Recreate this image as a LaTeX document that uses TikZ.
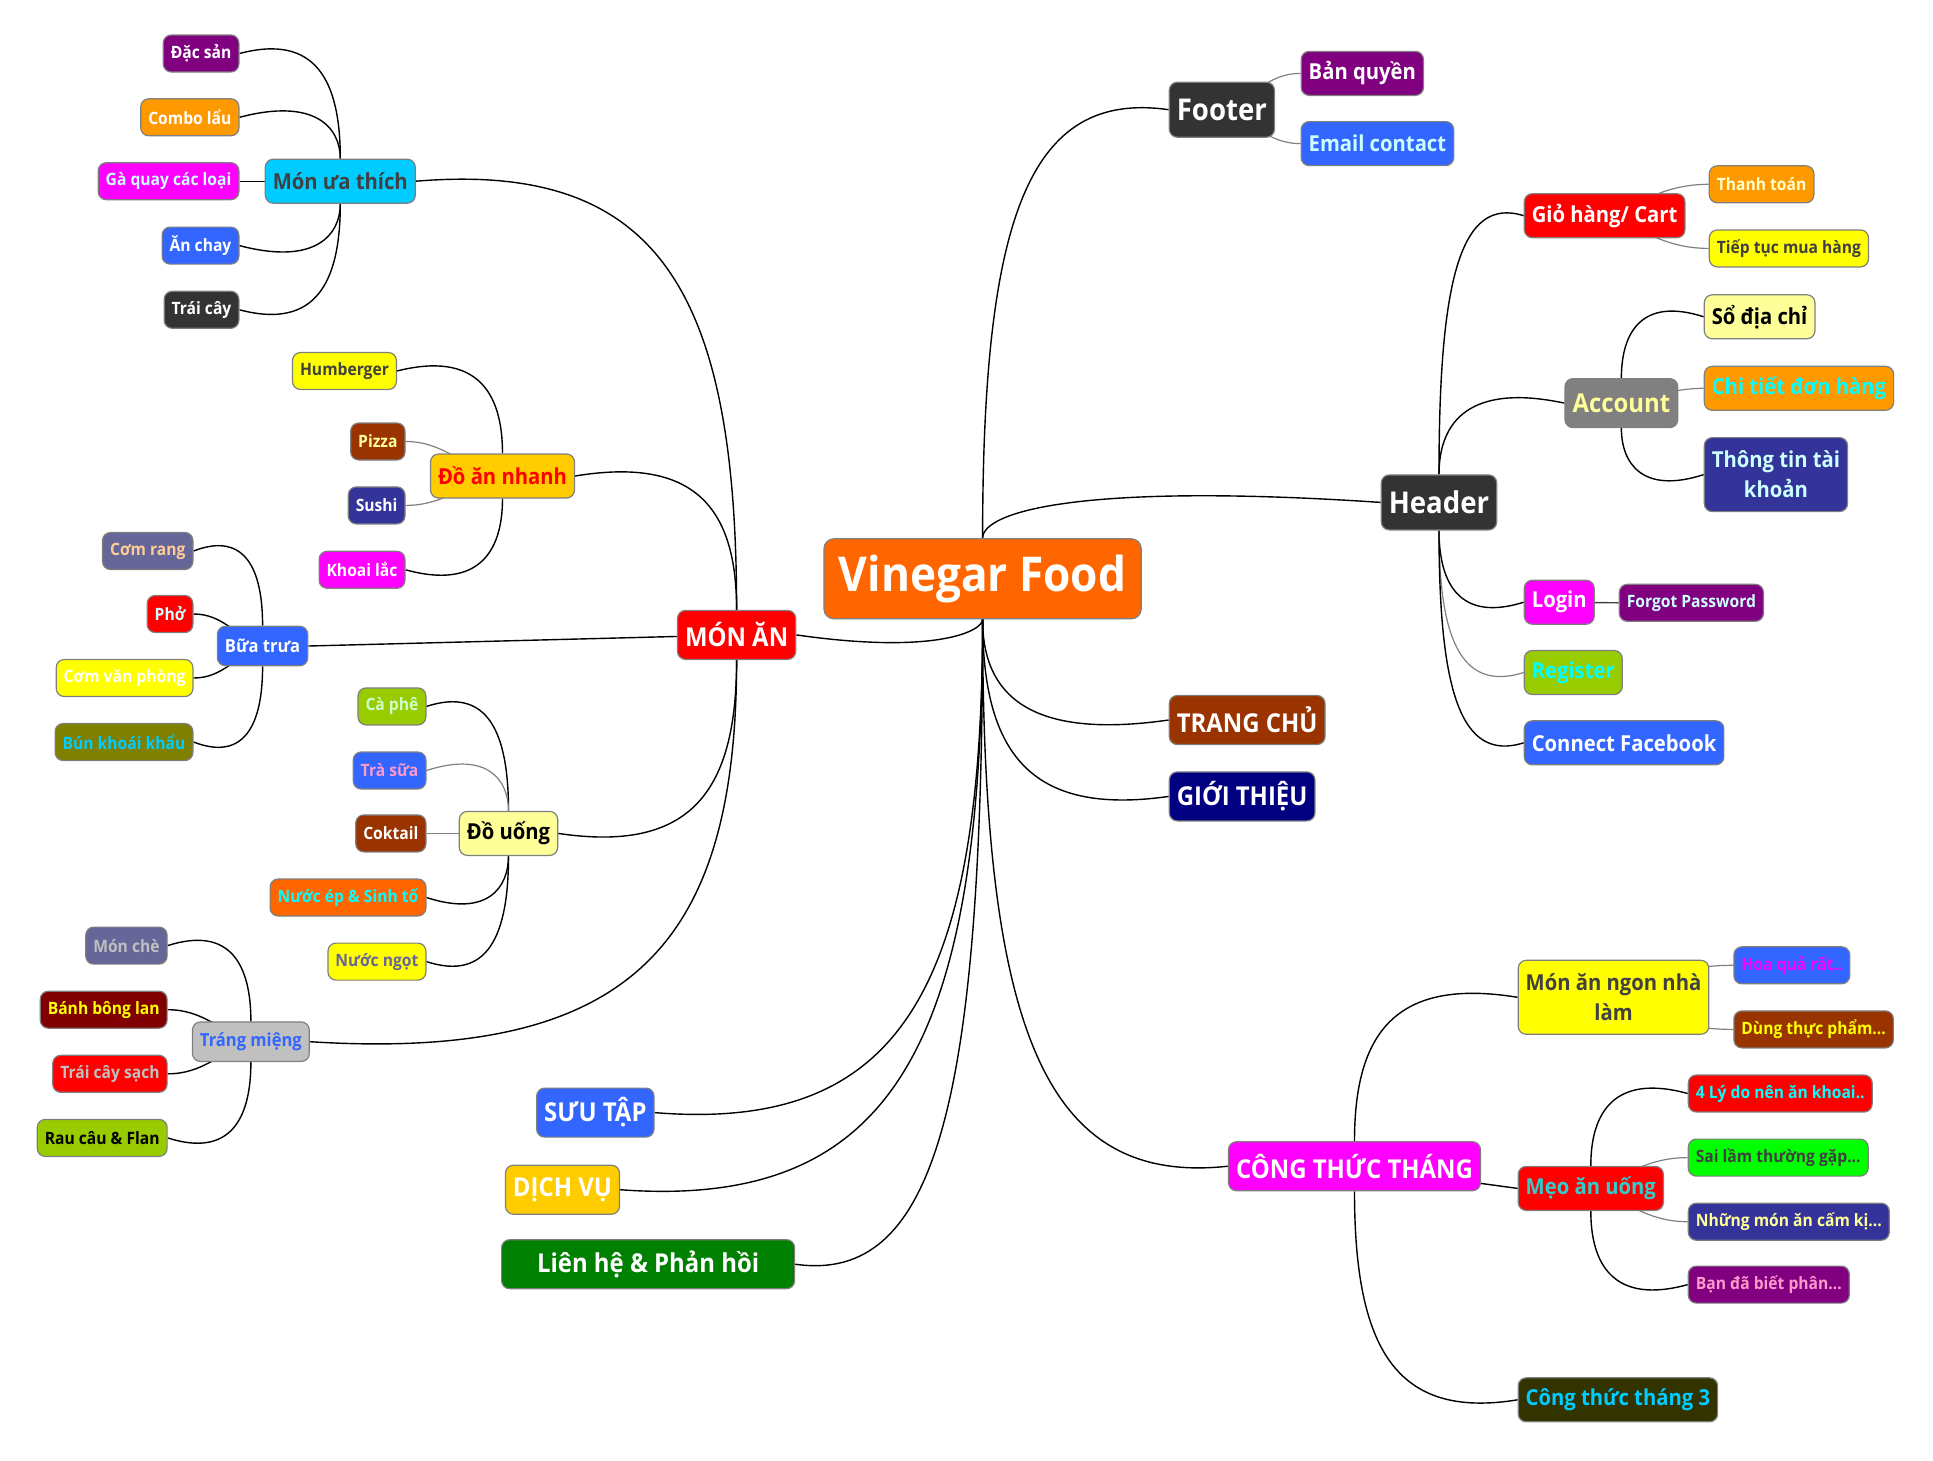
\documentclass[tikz,border=0pt]{standalone}
\usepackage{fontspec}
\setmainfont{Open Sans}[FakeStretch=0.92]
\usetikzlibrary{calc, backgrounds}

\definecolor{cOrange}{HTML}{FF6600}
\definecolor{cRed}{HTML}{FF0000}
\definecolor{cSky}{HTML}{00CCFF}
\definecolor{cGold}{HTML}{FFCC00}
\definecolor{cBlue}{HTML}{3366FF}
\definecolor{cCream}{HTML}{FFFF99}
\definecolor{cSilver}{HTML}{C0C0C0}
\definecolor{cPurple}{HTML}{800080}
\definecolor{cAmber}{HTML}{FF9900}
\definecolor{cMagenta}{HTML}{FF00FF}
\definecolor{cDark}{HTML}{333333}
\definecolor{cYellow}{HTML}{FFFF00}
\definecolor{cBrown}{HTML}{993300}
\definecolor{cIndigo}{HTML}{333399}
\definecolor{cSlate}{HTML}{666699}
\definecolor{cOlive}{HTML}{808000}
\definecolor{cLime}{HTML}{99CC00}
\definecolor{cMaroon}{HTML}{800000}
\definecolor{cGreen}{HTML}{008000}
\definecolor{cNavy}{HTML}{000080}
\definecolor{cGray}{HTML}{808080}
\definecolor{cNeon}{HTML}{00FF00}
\definecolor{cMoss}{HTML}{333300}
\definecolor{cInk}{HTML}{404040}
\definecolor{cPeach}{HTML}{FFCC99}
\definecolor{cIce}{HTML}{CCFFFF}
\definecolor{cPink}{HTML}{FF99CC}
\definecolor{cAqua}{HTML}{00FFFF}
\definecolor{cTeal}{HTML}{33CCCC}
\definecolor{cMint}{HTML}{CCFFCC}
\definecolor{cLemon}{HTML}{FFFFCC}
\definecolor{cBorder}{HTML}{7F7F7F}

\tikzset{
  mapbox/.style={draw=cBorder, line width=1.2pt, rounded corners=8pt, inner xsep=7.5pt, inner ysep=2pt, align=center},
  rootbox/.style={mapbox, fill=cOrange, text=white, inner xsep=15pt, minimum height=80pt, rounded corners=10pt, font=\bfseries\fontsize{48}{56}\selectfont},
  bigbox/.style={mapbox, minimum height=55pt, font=\bfseries\fontsize{30}{36}\selectfont},
  mainbox/.style={mapbox, minimum height=49pt, font=\bfseries\fontsize{26}{32}\selectfont},
  subbox/.style={mapbox, minimum height=44pt, font=\bfseries\fontsize{22}{30}\selectfont},
  smallbox/.style={mapbox, minimum height=39.5pt, font=\bfseries\fontsize{18}{22}\selectfont},
  leafbox/.style={mapbox, minimum height=37pt, font=\bfseries\fontsize{17}{21}\selectfont},
  wire/.style={draw=black, line width=1.4pt},
  greywire/.style={draw=cGray, line width=1.2pt},
  branch/.style={to path={.. controls ($(\tikztostart)!.75!(\tikztostart|-\tikztotarget)$) and ($(\tikztotarget)!.75!(\tikztotarget-|\tikztostart)+(0,#1)$) .. (\tikztotarget)}},
  upbranch/.style={branch=20},
  downbranch/.style={branch=-20},
}

\begin{document}
\begin{tikzpicture}[x=1pt, y=1pt]
	\useasboundingbox (0,0) rectangle (1933,-1460);

	\node[rootbox] (root) at (982.6,-578.8) {Vinegar Food};

	% Left: MON AN
	\node[mainbox, fill=cRed, text=white] (monan) at (736.6,-634.9) {MÓN ĂN};
	\node[subbox, fill=cSky, text=cInk] (muathich) at (340.3,-181.2) {Món ưa thích};
	\node[subbox, fill=cGold, text=cRed] (nhanh) at (502.5,-476) {Đồ ăn nhanh};
	\node[smallbox, fill=cBlue, text=white] (buatrua) at (262.6,-646) {Bữa trưa};
	\node[subbox, fill=cCream, text=black] (douong) at (508.5,-833.4) {Đồ uống};
	\node[smallbox, fill=cSilver, text=cBlue] (trangmieng) at (250.9,-1041.7) {Tráng miệng};

	\node[leafbox, anchor=east, fill=cPurple, text=white] (dacsan) at (239.5,-53.5) {Đặc sản};
	\node[leafbox, anchor=east, fill=cAmber, text=white] (combo) at (239.5,-117.3) {Combo lẩu};
	\node[leafbox, anchor=east, fill=cMagenta, text=cIce] (gaquay) at (239.5,-181.2) {Gà quay các loại};
	\node[leafbox, anchor=east, fill=cBlue, text=white] (anchay) at (239.5,-245.6) {Ăn chay};
	\node[leafbox, anchor=east, fill=cDark, text=white] (traicay) at (239.5,-309.8) {Trái cây};

	\node[leafbox, anchor=east, fill=cYellow, text=cInk] (humb) at (397,-371) {Humberger};
	\node[leafbox, anchor=east, fill=cBrown, text=cCream] (pizza) at (405.6,-441.5) {Pizza};
	\node[leafbox, anchor=east, fill=cIndigo, text=white] (sushi) at (405.6,-505.4) {Sushi};
	\node[leafbox, anchor=east, fill=cMagenta, text=white] (khoai) at (405.6,-569.8) {Khoai lắc};

	\node[leafbox, anchor=east, fill=cSlate, text=cPeach] (comrang) at (193.5,-551) {Cơm rang};
	\node[leafbox, anchor=east, fill=cRed, text=cIce] (pho) at (193.5,-614) {Phở};
	\node[leafbox, anchor=east, fill=cYellow, text=white] (comvp) at (193.5,-678) {Cơm văn phòng};
	\node[leafbox, anchor=east, fill=cOlive, text=cSky] (bun) at (193.5,-742) {Bún khoái khẩu};

	\node[leafbox, anchor=east, fill=cLime, text=cMint] (caphe) at (426.5,-706.4) {Cà phê};
	\node[leafbox, anchor=east, fill=cBlue, text=cPink] (trasua) at (426.5,-770.5) {Trà sữa};
	\node[leafbox, anchor=east, fill=cBrown, text=white] (coktail) at (426.5,-833.4) {Coktail};
	\node[leafbox, anchor=east, fill=cOrange, text=cAqua] (nuocep) at (426.5,-897.5) {Nước ép \& Sinh tố};
	\node[leafbox, anchor=east, fill=cYellow, text=cSlate] (nuocngot) at (426.5,-961.6) {Nước ngọt};

	\node[leafbox, anchor=east, fill=cSlate, text=cSilver] (monche) at (167.7,-945.6) {Món chè};
	\node[leafbox, anchor=east, fill=cMaroon, text=cYellow] (banhbl) at (167.7,-1009.7) {Bánh bông lan};
	\node[leafbox, anchor=east, fill=cRed, text=cSilver] (traicaysach) at (167.7,-1073.8) {Trái cây sạch};
	\node[leafbox, anchor=east, fill=cLime, text=black] (raucau) at (167.7,-1137.9) {Rau câu \& Flan};

	% Left: bottom
	\node[mainbox, anchor=east, fill=cBlue, text=white] (suutap) at (654.6,-1112.6) {SƯU TẬP};
	\node[mainbox, anchor=east, fill=cGold, text=white] (dichvu) at (620.1,-1189.7) {DỊCH VỤ};
	\node[mainbox, anchor=east, fill=cGreen, text=white, minimum width=293pt] (lienhe) at (795.2,-1264.2) {Liên hệ \& Phản hồi};

	% Right: Footer and Header
	\node[bigbox, anchor=west, fill=cDark, text=white] (footer) at (1168.7,-109.7) {Footer};
	\node[subbox, anchor=west, fill=cPurple, text=white] (banquyen) at (1300.6,-73.4) {Bản quyền};
	\node[subbox, anchor=west, fill=cBlue, text=cIce] (email) at (1300.6,-143.6) {Email contact};

	\node[bigbox, anchor=west, fill=cDark, text=white] (header) at (1380.7,-502.4) {Header};
	\node[subbox, anchor=west, fill=cRed, text=white] (cart) at (1523.7,-215.7) {Giỏ hàng/ Cart};
	\node[leafbox, anchor=west, fill=cAmber, text=cLemon] (thanhtoan) at (1708.7,-184.3) {Thanh toán};
	\node[leafbox, anchor=west, fill=cYellow, text=cInk] (tieptuc) at (1708.7,-248.4) {Tiếp tục mua hàng};
	\node[mainbox, anchor=west, fill=cGray, text=cCream] (account) at (1564.4,-403.1) {Account};
	\node[subbox, anchor=west, fill=cCream, text=black] (sodiachi) at (1703.7,-316.8) {Sổ địa chỉ};
	\node[subbox, anchor=west, fill=cAmber, text=cAqua] (chitiet) at (1703.7,-388.3) {Chi tiết đơn hàng};
	\node[subbox, anchor=west, fill=cIndigo, text=cIce, minimum height=74pt] (thongtin) at (1703.7,-474.6) {Thông tin tài\\khoản};
	\node[subbox, anchor=west, fill=cMagenta, text=white] (login) at (1523.7,-602.2) {Login};
	\node[leafbox, anchor=west, fill=cPurple, text=cIce] (forgot) at (1618.7,-602.8) {Forgot Password};
	\node[subbox, anchor=west, fill=cLime, text=cAqua] (register) at (1523.7,-672.5) {Register};
	\node[subbox, anchor=west, fill=cBlue, text=white] (facebook) at (1523.7,-742.8) {Connect Facebook};

	% Right: pages
	\node[mainbox, anchor=west, fill=cBrown, text=white] (trangchu) at (1168.7,-720) {TRANG CHỦ};
	\node[mainbox, anchor=west, fill=cNavy, text=white] (gioithieu) at (1168.7,-796.4) {GIỚI THIỆU};
	\node[mainbox, anchor=west, fill=cMagenta, text=white] (congthuc) at (1227.9,-1166.2) {CÔNG THỨC THÁNG};

	\node[subbox, anchor=west, fill=cYellow, text=cInk, minimum height=74pt] (ngon) at (1517.6,-997.3) {Món ăn ngon nhà\\làm};
	\node[leafbox, anchor=west, fill=cBlue, text=cMagenta] (hoaqua) at (1733.3,-965.3) {Hoa quả rất..};
	\node[leafbox, anchor=west, fill=cBrown, text=cYellow] (dung) at (1733.3,-1029.4) {Dùng thực phẩm...};
	\node[subbox, anchor=west, fill=cRed, text=cTeal] (meo) at (1517.6,-1188.4) {Mẹo ăn uống};
	\node[leafbox, anchor=west, fill=cRed, text=cAqua] (lydo) at (1687.7,-1093.5) {4 Lý do nên ăn khoai..};
	\node[leafbox, anchor=west, fill=cNeon, text=cInk] (sailam) at (1687.7,-1157.6) {Sai lầm thường gặp...};
	\node[leafbox, anchor=west, fill=cIndigo, text=cCream] (nhung) at (1687.7,-1221.7) {Những món ăn cấm kị...};
	\node[leafbox, anchor=west, fill=cPurple, text=cPink] (bandabiet) at (1687.7,-1284.6) {Bạn đã biết phân...};
	\node[subbox, anchor=west, fill=cMoss, text=cSky] (thang3) at (1517.6,-1399.8) {Công thức tháng 3};

	% Connections
	\begin{scope}[on background layer]
	\draw[wire] (root.north) to[upbranch] (footer.west);
	\draw[wire] (root.north) to[upbranch] (header.west);
	\draw[wire] (root.south) to[downbranch] (monan.east);
	\draw[wire] (root.south) to[downbranch] (trangchu.west);
	\draw[wire] (root.south) to[downbranch] (gioithieu.west);
	\draw[wire] (root.south) to[downbranch] (congthuc.west);
	\draw[wire] (root.south) to[downbranch] (suutap.east);
	\draw[wire] (root.south) to[downbranch] (dichvu.east);
	\draw[wire] (root.south) to[downbranch] (lienhe.east);

	\draw[wire] (monan.north) to[upbranch] (muathich.east);
	\draw[wire] (monan.north) to[upbranch] (nhanh.east);
	\draw[wire] (monan.center) -- (buatrua.east);
	\draw[wire] (monan.south) to[downbranch] (douong.east);
	\draw[wire] (monan.south) to[downbranch] (trangmieng.east);

	\draw[wire] (muathich.north) to[upbranch] (dacsan.east);
	\draw[wire] (muathich.north) to[upbranch] (combo.east);
	\draw[wire] (muathich.center) -- (gaquay.east);
	\draw[wire] (muathich.south) to[downbranch] (anchay.east);
	\draw[wire] (muathich.south) to[downbranch] (traicay.east);

	\draw[wire] (nhanh.north) to[upbranch] (humb.east);
	\draw[greywire] (nhanh.center) to[out=170, in=0] (pizza.east);
	\draw[greywire] (nhanh.center) to[out=190, in=0] (sushi.east);
	\draw[wire] (nhanh.south) to[downbranch] (khoai.east);

	\draw[wire] (buatrua.north) to[upbranch] (comrang.east);
	\draw[wire] (buatrua.center) to[out=160, in=0] (pho.east);
	\draw[wire] (buatrua.center) to[out=200, in=0] (comvp.east);
	\draw[wire] (buatrua.south) to[downbranch] (bun.east);

	\draw[wire] (douong.north) to[upbranch] (caphe.east);
	\draw[greywire] (douong.north) to[upbranch] (trasua.east);
	\draw[greywire] (douong.center) -- (coktail.east);
	\draw[wire] (douong.south) to[downbranch] (nuocep.east);
	\draw[wire] (douong.south) to[downbranch] (nuocngot.east);

	\draw[wire] (trangmieng.north) to[upbranch] (monche.east);
	\draw[wire] (trangmieng.center) to[out=160, in=0] (banhbl.east);
	\draw[wire] (trangmieng.center) to[out=200, in=0] (traicaysach.east);
	\draw[wire] (trangmieng.south) to[downbranch] (raucau.east);

	\draw[greywire] (footer.center) to[out=20, in=180] (banquyen.west);
	\draw[greywire] (footer.center) to[out=-20, in=180] (email.west);

	\draw[wire] (header.north) to[upbranch] (cart.west);
	\draw[wire] (header.north) to[upbranch] (account.west);
	\draw[wire] (header.south) to[downbranch] (login.west);
	\draw[greywire] (header.south) to[downbranch] (register.west);
	\draw[wire] (header.south) to[downbranch] (facebook.west);
	\draw[greywire] (cart.center) to[out=20, in=180] (thanhtoan.west);
	\draw[greywire] (cart.center) to[out=-20, in=180] (tieptuc.west);
	\draw[wire] (account.north) to[upbranch] (sodiachi.west);
	\draw[greywire] (account.center) to[out=8, in=180] (chitiet.west);
	\draw[wire] (account.south) to[downbranch] (thongtin.west);
	\draw[draw=cInk, line width=1.4pt] (login.center) -- (forgot.west);

	\draw[wire] (congthuc.north) to[upbranch] (ngon.west);
	\draw[wire] (congthuc.center) -- (meo.west);
	\draw[wire] (congthuc.south) to[downbranch] (thang3.west);
	\draw[greywire] (ngon.center) to[out=25, in=180] (hoaqua.west);
	\draw[greywire] (ngon.center) to[out=-25, in=180] (dung.west);
	\draw[wire] (meo.north) to[upbranch] (lydo.west);
	\draw[greywire] (meo.center) to[out=20, in=180] (sailam.west);
	\draw[greywire] (meo.center) to[out=-20, in=180] (nhung.west);
	\draw[wire] (meo.south) to[downbranch] (bandabiet.west);
	\end{scope}
\end{tikzpicture}
\end{document}
